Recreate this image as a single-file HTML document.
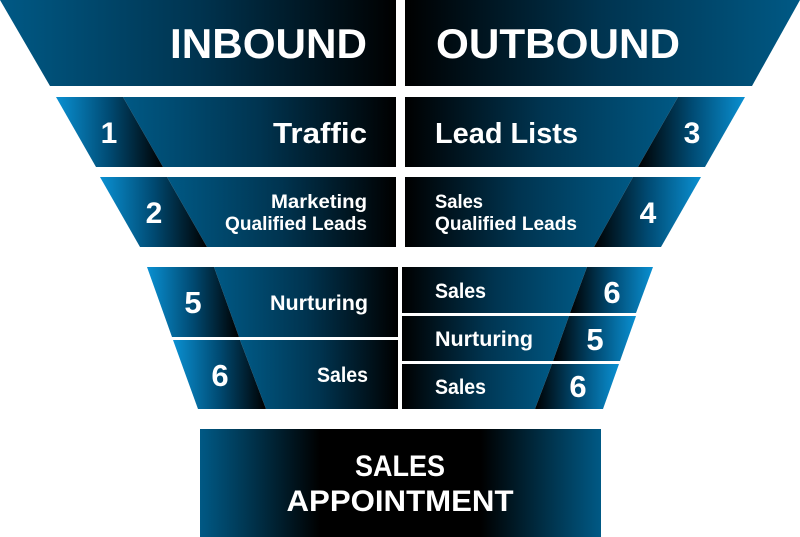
<!DOCTYPE html>
<html><head><meta charset="utf-8"><style>
html,body{margin:0;padding:0;background:#fff;}
svg{display:block;}
text{font-family:"Liberation Sans",sans-serif;font-weight:bold;fill:#fff;}
</style></head><body>
<svg width="800" height="537" viewBox="0 0 800 537" xmlns="http://www.w3.org/2000/svg">
<defs>
<linearGradient id="mL" x1="0" x2="1" y1="0" y2="0"><stop offset="0" stop-color="#005985"/><stop offset="0.5" stop-color="#003450"/><stop offset="1" stop-color="#000"/></linearGradient>
<linearGradient id="mR" x1="1" x2="0" y1="0" y2="0"><stop offset="0" stop-color="#005985"/><stop offset="0.5" stop-color="#003450"/><stop offset="1" stop-color="#000"/></linearGradient>
<linearGradient id="nL" x1="0" x2="1" y1="0" y2="0"><stop offset="0" stop-color="#0a90d2"/><stop offset="0.5" stop-color="#004a72"/><stop offset="1" stop-color="#000"/></linearGradient>
<linearGradient id="nR" x1="1" x2="0" y1="0" y2="0"><stop offset="0" stop-color="#0a90d2"/><stop offset="0.5" stop-color="#004a72"/><stop offset="1" stop-color="#000"/></linearGradient>
<linearGradient id="bx" x1="0" x2="1" y1="0" y2="0"><stop offset="0" stop-color="#005985"/><stop offset="0.3" stop-color="#000"/><stop offset="0.7" stop-color="#000"/><stop offset="1" stop-color="#005985"/></linearGradient>
</defs>
<polygon points="0,0 396,0 396,86 50,86" fill="url(#mL)"/>
<polygon points="405,0 800,0 752,86 405,86" fill="url(#mR)"/>
<text x="367" y="58" font-size="42" text-anchor="end" textLength="197" lengthAdjust="spacingAndGlyphs">INBOUND</text>
<text x="436" y="58" font-size="42" textLength="244" lengthAdjust="spacingAndGlyphs">OUTBOUND</text>
<polygon points="123,97 396,97 396,167 163,167" fill="url(#mL)"/>
<polygon points="56,97 123,97 163,167 96,167" fill="url(#nL)"/>
<polygon points="405,97 678,97 638,167 405,167" fill="url(#mR)"/>
<polygon points="678,97 745,97 705,167 638,167" fill="url(#nR)"/>
<text x="109" y="143" font-size="30" text-anchor="middle">1</text>
<text x="367" y="143" font-size="29" text-anchor="end" textLength="94" lengthAdjust="spacingAndGlyphs">Traffic</text>
<text x="435" y="143" font-size="29" textLength="143" lengthAdjust="spacingAndGlyphs">Lead Lists</text>
<text x="692" y="143" font-size="30" text-anchor="middle">3</text>
<polygon points="167,177 396,177 396,247 207,247" fill="url(#mL)"/>
<polygon points="100,177 167,177 207,247 140,247" fill="url(#nL)"/>
<polygon points="405,177 633,177 594,247 405,247" fill="url(#mR)"/>
<polygon points="633,177 701,177 661,247 594,247" fill="url(#nR)"/>
<text x="154" y="223" font-size="30" text-anchor="middle">2</text>
<text x="367" y="208" font-size="19" text-anchor="end" textLength="96" lengthAdjust="spacingAndGlyphs">Marketing</text>
<text x="367" y="230" font-size="19" text-anchor="end" textLength="142" lengthAdjust="spacingAndGlyphs">Qualified Leads</text>
<text x="435" y="208" font-size="19" textLength="48" lengthAdjust="spacingAndGlyphs">Sales</text>
<text x="435" y="230" font-size="19" textLength="142" lengthAdjust="spacingAndGlyphs">Qualified Leads</text>
<text x="648" y="223" font-size="30" text-anchor="middle">4</text>
<polygon points="214,267 398,267 398,337 239,337" fill="url(#mL)"/>
<polygon points="147,267 214,267 239,337 172,337" fill="url(#nL)"/>
<polygon points="240,340 398,340 398,409 266,409" fill="url(#mL)"/>
<polygon points="173,340 240,340 266,409 198,409" fill="url(#nL)"/>
<text x="193" y="313" font-size="31" text-anchor="middle">5</text>
<text x="368" y="310" font-size="21" text-anchor="end" textLength="98" lengthAdjust="spacingAndGlyphs">Nurturing</text>
<text x="220" y="386" font-size="31" text-anchor="middle">6</text>
<text x="368" y="382" font-size="21" text-anchor="end" textLength="51" lengthAdjust="spacingAndGlyphs">Sales</text>
<polygon points="402,267 587,267 570,313 402,313" fill="url(#mR)"/>
<polygon points="587,267 653,267 636,313 570,313" fill="url(#nR)"/>
<polygon points="402,316 569,316 553,361 402,361" fill="url(#mR)"/>
<polygon points="569,316 636,316 620,361 553,361" fill="url(#nR)"/>
<polygon points="402,364 552,364 535,409 402,409" fill="url(#mR)"/>
<polygon points="552,364 619,364 603,409 535,409" fill="url(#nR)"/>
<text x="435" y="298" font-size="21" textLength="51" lengthAdjust="spacingAndGlyphs">Sales</text>
<text x="612" y="303" font-size="31" text-anchor="middle">6</text>
<text x="435" y="346" font-size="21" textLength="98" lengthAdjust="spacingAndGlyphs">Nurturing</text>
<text x="595" y="350" font-size="31" text-anchor="middle">5</text>
<text x="435" y="394" font-size="21" textLength="51" lengthAdjust="spacingAndGlyphs">Sales</text>
<text x="578" y="397" font-size="31" text-anchor="middle">6</text>
<rect x="200" y="429" width="401" height="108" fill="url(#bx)"/>
<text x="400" y="476" font-size="30" text-anchor="middle" textLength="90" lengthAdjust="spacingAndGlyphs">SALES</text>
<text x="400" y="511" font-size="30" text-anchor="middle" textLength="227" lengthAdjust="spacingAndGlyphs">APPOINTMENT</text>
</svg>
</body></html>
